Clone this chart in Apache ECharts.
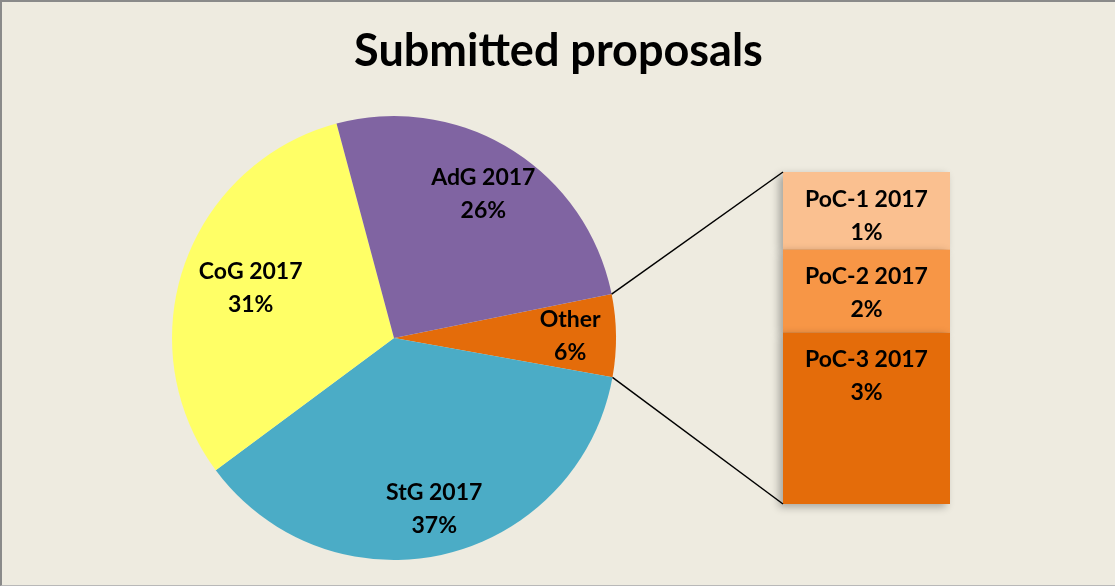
<!DOCTYPE html>
<html>
<head>
<meta charset="utf-8">
<script src="https://cdn.jsdelivr.net/npm/echarts@6/dist/echarts.min.js"></script>
<style>
  html, body { margin: 0; padding: 0; background: #eeebe0; }
  #chart {
    width: 1113px; height: 583px;
    border-left: 2px solid #8a8a8a;
    border-top: 2px solid #8a8a8a;
    border-bottom: 1px solid #b8b8b8;
    background: #eeebe0;
  }
</style>
</head>
<body>
<div id="chart"></div>
<script>
// pie slices, clockwise from the "Other" wedge
var pieNames = ['Other', 'StG 2017', 'CoG 2017', 'AdG 2017'];
var pieValues = [6, 37, 31, 26];
var pieColors = ['#e46c0a', '#4bacc6', '#ffff66', '#8064a2'];

// breakdown of "Other"
var pocNames = ['PoC-1 2017', 'PoC-2 2017', 'PoC-3 2017'];
var pocValues = [1.4, 1.5, 3.1];
var pocLabels = ['1%', '2%', '3%'];
var pocColors = ['#fac090', '#f79646', '#e46c0a'];

var font = 'Lato, "Open Sans", sans-serif';
var cx = 392, cy = 336, r = 222;
var startAngle = 11.4;
// inner radius (fraction) of the invisible ring each pie label is centred in
var labelInner = [0.56, 0.56, 0.34, 0.5];
var bar = { left: 781, top: 170, width: 167, height: 332 };

var chart = echarts.init(document.getElementById('chart'));

var total = pieValues.reduce(function (a, b) { return a + b; }, 0);
var otherSpan = pieValues[0] / total * 360;
function onCircle(deg) {
    var a = deg * Math.PI / 180;
    return [cx + r * Math.cos(a), cy - r * Math.sin(a)];
}
var pTop = onCircle(startAngle);
var pBot = onCircle(startAngle - otherSpan);

var labelStyle = {
    color: '#000',
    fontFamily: font,
    fontWeight: 'bold',
    fontSize: 23,
    lineHeight: 33
};

var series = [{
    type: 'pie',
    center: [cx, cy],
    radius: [0, r],
    startAngle: startAngle,
    silent: true,
    label: { show: false },
    labelLine: { show: false },
    data: pieNames.map(function (n, i) {
        return { name: n, value: pieValues[i], itemStyle: { color: pieColors[i] } };
    })
}];

// one transparent ring per slice, only that slice's label shown
pieNames.forEach(function (name, k) {
    series.push({
        type: 'pie',
        center: [cx, cy],
        radius: [r * labelInner[k], r],
        startAngle: startAngle,
        silent: true,
        itemStyle: { color: 'rgba(0,0,0,0)' },
        labelLine: { show: false },
        label: Object.assign({ show: false, position: 'inside', formatter: '{b}\n{d}%' }, labelStyle),
        data: pieNames.map(function (n, i) {
            return { name: n, value: pieValues[i], label: { show: i === k } };
        })
    });
});

pocNames.forEach(function (n, i) {
    series.push({
        type: 'bar',
        name: n,
        stack: 'poc',
        barWidth: bar.width,
        silent: true,
        itemStyle: {
            color: pocColors[i],
            shadowColor: 'rgba(0,0,0,0.3)',
            shadowBlur: 8,
            shadowOffsetX: -4,
            shadowOffsetY: 3
        },
        label: Object.assign({
            show: true,
            position: 'insideTop',
            distance: 11,
            formatter: n + '\n' + pocLabels[i]
        }, labelStyle),
        data: [pocValues[i]]
    });
});

var option = {
    animation: false,
    title: {
        text: 'Submitted proposals',
        left: 'center',
        top: 22,
        textStyle: { fontFamily: font, fontWeight: 'bold', fontSize: 45, color: '#000' }
    },
    grid: { left: bar.left, top: bar.top, width: bar.width, height: bar.height },
    xAxis: { type: 'category', data: ['Other'], show: false },
    yAxis: { type: 'value', min: 0, max: 6, inverse: true, show: false },
    series: series,
    graphic: [
        {
            type: 'line', z: 10,
            shape: { x1: pTop[0], y1: pTop[1], x2: bar.left, y2: bar.top },
            style: { stroke: '#000', lineWidth: 1.5 }
        },
        {
            type: 'line', z: 10,
            shape: { x1: pBot[0], y1: pBot[1], x2: bar.left, y2: bar.top + bar.height },
            style: { stroke: '#000', lineWidth: 1.5 }
        }
    ]
};

chart.setOption(option);
</script>
</body>
</html>
